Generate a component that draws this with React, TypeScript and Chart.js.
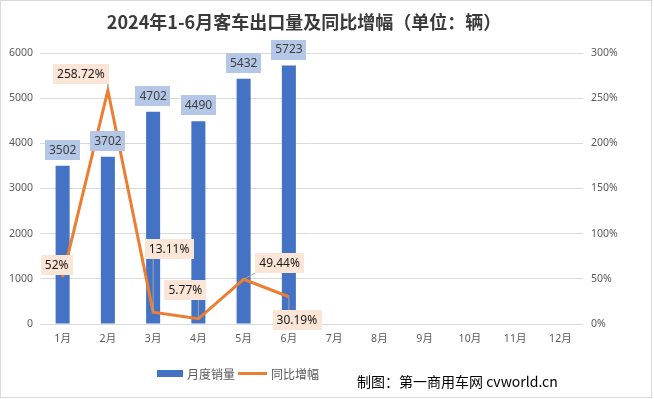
import React, { useEffect, useRef } from 'react';
import { Chart, registerables } from 'chart.js';

Chart.register(...registerables);

const categories = ['1月', '2月', '3月', '4月', '5月', '6月', '7月', '8月', '9月', '10月', '11月', '12月'];
const salesValues = [3502, 3702, 4702, 4490, 5432, 5723];
const growthValues = [52, 258.72, 13.11, 5.77, 49.44, 30.19];
const growthLabels = ['52%', '258.72%', '13.11%', '5.77%', '49.44%', '30.19%'];
const salesName = '月度销量';
const growthName = '同比增幅';
const titleText = '2024年1-6月客车出口量及同比增幅（单位：辆）';
const creditText = '制图：第一商用车网 cvworld.cn';

// label placement (style only): offsets of label centres relative to their point
const lineLabelOffsets: [number, number][] = [[-6, -12], [-27, -16], [16, -63], [-13, -29], [36, -16], [8, 23]];

const FONT = '"Noto Sans", "Noto Sans CJK SC", sans-serif';

const labelPlugin = {
  id: 'customLabels',
  afterDatasetsDraw(chart: any) {
    const ctx = chart.ctx;
    ctx.save();
    ctx.font = `12px ${FONT}`;
    ctx.textAlign = 'center';
    ctx.textBaseline = 'middle';
    const h = 20;
    const barMeta = chart.getDatasetMeta(0);
    barMeta.data.forEach((el: any, i: number) => {
      if (salesValues[i] == null) return;
      const text = String(salesValues[i]);
      const w = ctx.measureText(text).width + 8;
      const cx = el.x;
      const cy = el.y - 16;
      ctx.fillStyle = '#B4C7E7';
      ctx.fillRect(Math.round(cx - w / 2), Math.round(cy - h / 2), Math.round(w), h);
      ctx.fillStyle = '#404040';
      ctx.fillText(text, cx, cy + 0.5);
    });
    const lineMeta = chart.getDatasetMeta(1);
    lineMeta.data.forEach((el: any, i: number) => {
      if (growthValues[i] == null) return;
      const text = growthLabels[i];
      const w = ctx.measureText(text).width + 8;
      const [dx, dy] = lineLabelOffsets[i];
      const cx = el.x + dx;
      const cy = el.y + dy;
      const l = Math.round(cx - w / 2), t = Math.round(cy - h / 2), r = l + Math.round(w), b = t + h;
      const nx = Math.min(Math.max(el.x, l), r);
      const ny = Math.min(Math.max(el.y, t), b);
      if (Math.hypot(nx - el.x, ny - el.y) > 6) {
        ctx.strokeStyle = '#A6A6A6';
        ctx.lineWidth = 1;
        ctx.beginPath();
        ctx.moveTo(el.x, el.y);
        ctx.lineTo(nx, ny);
        ctx.stroke();
      }
      ctx.fillStyle = '#FBE5D6';
      ctx.fillRect(l, t, r - l, h);
      ctx.fillStyle = '#1A1A1A';
      ctx.fillText(text, cx, cy + 0.5);
    });
    ctx.restore();
  },
};

function ChartView() {
  const ref = useRef<HTMLCanvasElement>(null);
  useEffect(() => {
    if (!ref.current) return;
    const tickFont = { family: FONT, size: 10.5 };
    const chart = new Chart(ref.current, {
      type: 'bar',
      data: {
        labels: categories,
        datasets: [
          {
            type: 'bar',
            label: salesName,
            data: salesValues,
            backgroundColor: '#4472C4',
            barPercentage: 0.31,
            categoryPercentage: 1,
            yAxisID: 'y',
            order: 2,
          },
          {
            type: 'line',
            label: growthName,
            data: growthValues,
            borderColor: '#ED7D31',
            backgroundColor: '#ED7D31',
            borderWidth: 3,
            pointRadius: 0,
            tension: 0,
            yAxisID: 'y1',
            order: 1,
          } as any,
        ],
      },
      options: {
        responsive: false,
        animation: false,
        devicePixelRatio: 1,
        layout: { padding: { top: 53, bottom: 55, left: 0, right: 0 } },
        plugins: { legend: { display: false }, title: { display: false }, tooltip: { enabled: false } },
        scales: {
          x: {
            grid: { display: false, drawTicks: false },
            border: { display: false },
            ticks: { font: tickFont, color: '#595959', padding: 9, maxRotation: 0, autoSkip: false },
            afterFit: (s: any) => { s.height = 20; },
          },
          y: {
            position: 'left',
            min: 0,
            max: 6000,
            ticks: { stepSize: 1000, font: tickFont, color: '#595959', padding: 7, callback: (v: any) => String(v) },
            grid: { color: '#D9D9D9', drawTicks: false, lineWidth: 1 },
            border: { display: false },
            afterFit: (s: any) => { s.width = 40; },
          },
          y1: {
            position: 'right',
            min: 0,
            max: 300,
            ticks: { stepSize: 50, font: tickFont, color: '#595959', padding: 8, callback: (v: any) => v + '%' },
            grid: { display: false, drawTicks: false },
            border: { display: false },
            afterFit: (s: any) => { s.width = 71; },
          },
        },
      },
      plugins: [labelPlugin],
    });
    return () => chart.destroy();
  }, []);
  return <canvas ref={ref} width={654} height={399} style={{ position: 'absolute', left: 0, top: 0, width: 654, height: 399 }} />;
}

export default function App() {
  return (
    <div style={{ position: 'fixed', left: 0, top: 0, width: 654, height: 399, background: '#fff', overflow: 'hidden', fontFamily: FONT }}>
      <ChartView />
      <div style={{ position: 'absolute', left: 0, top: 0, width: 652, height: 398, boxSizing: 'border-box', border: '1px solid #D9D9D9', pointerEvents: 'none' }} />
      <div style={{ position: 'absolute', left: 0, width: 608, top: 8, textAlign: 'center', fontFamily: '"Noto Sans CJK SC", sans-serif', fontWeight: 700, fontSize: 18, lineHeight: '26px', color: '#3A3A3A', whiteSpace: 'nowrap' }}>{titleText}</div>
      <div style={{ position: 'absolute', left: 157, top: 364, height: 18, display: 'flex', alignItems: 'center', fontFamily: '"Noto Sans CJK SC", sans-serif', fontSize: 12, color: '#595959', whiteSpace: 'nowrap' }}>
        <span style={{ display: 'inline-block', width: 26, height: 7, background: '#4472C4', marginRight: 4 }} />
        <span>{salesName}</span>
        <span style={{ display: 'inline-block', width: 29, height: 3, background: '#ED7D31', marginLeft: 3, marginRight: 4 }} />
        <span>{growthName}</span>
      </div>
      <div style={{ position: 'absolute', left: 357, top: 371, lineHeight: '20px', fontFamily: '"Noto Sans CJK SC", sans-serif', fontSize: 14, color: '#000', whiteSpace: 'nowrap' }}>{creditText}</div>
    </div>
  );
}
